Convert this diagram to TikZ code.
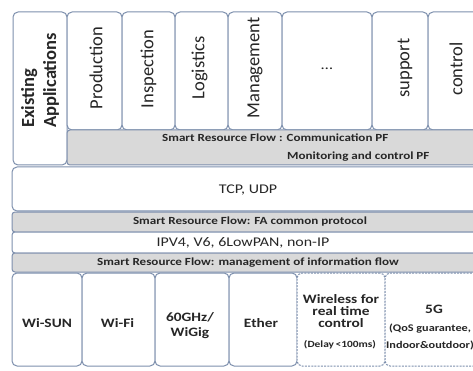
\documentclass[tikz,border=0pt]{standalone}
\usepackage{fontspec}
\setmainfont{Carlito}
\newfontfamily\widefont[FakeStretch=1.2]{Carlito}
\definecolor{frame}{HTML}{7D8FAD}
\definecolor{band}{HTML}{D9D9D9}
\definecolor{ink}{HTML}{262626}
\tikzset{
  cell/.style={draw=frame, line width=1pt, rounded corners=5pt, fill=white,
    inner sep=0pt, outer sep=0pt},
  bandcell/.style={cell, fill=band, rounded corners=3pt},
  dashcell/.style={cell, dashed, dash pattern=on 2pt off 1.2pt},
  txt/.style={text=ink, inner sep=0pt, align=center},
  vlabel/.style={txt, rotate=90, font=\fontsize{18.5}{20}\selectfont},
  blabel/.style={txt, font=\widefont\bfseries\fontsize{10.9}{12}\selectfont},
  llabel/.style={txt, font=\widefont\fontsize{13.3}{15}\selectfont},
  hwlabel/.style={txt, font=\widefont\bfseries\fontsize{12.8}{15}\selectfont},
}
\begin{document}
\begin{tikzpicture}[x=1pt, y=-1pt]
\clip (0,0) rectangle (473,371);
\fill[white] (0,0) rectangle (473,371);

% application row
\node[cell, minimum width=54pt, minimum height=153pt] (exist) at (40,88.5) {};
\node[cell, minimum width=55pt, minimum height=118pt] (prod) at (94.5,71) {};
\node[cell, minimum width=53pt, minimum height=118pt] (insp) at (148.5,71) {};
\node[cell, minimum width=53pt, minimum height=118pt] (logi) at (201.5,71) {};
\node[cell, minimum width=54pt, minimum height=118pt] (mgmt) at (255,71) {};
\node[cell, minimum width=90pt, minimum height=118pt] (more) at (327,71) {};
\node[cell, minimum width=56pt, minimum height=118pt] (supp) at (400,71) {};
\node[cell, minimum width=56pt, minimum height=118pt] (ctrl) at (456,71) {};

\node[vlabel, anchor=west, align=left, font=\bfseries\fontsize{18.5}{22}\selectfont]
  (existtxt) at (40,128) {Existing\\Applications};
\node[vlabel] (prodtxt) at (96,68) {Production};
\node[vlabel] (insptxt) at (148.5,69) {Inspection};
\node[vlabel] (logitxt) at (199.5,68) {Logistics};
\node[vlabel] (mgmttxt) at (255,68) {Management};
\node[txt, font=\widefont\fontsize{14}{16}\selectfont] (moretxt) at (327,69) {\dots};
\node[vlabel] (supptxt) at (405,68) {support};
\node[vlabel] (ctrltxt) at (456,69) {control};

% platform band
\node[bandcell, minimum width=423pt, minimum height=35pt] (comm) at (278.5,147.5) {};
\node[blabel, anchor=base west] (commA) at (162,142) {Smart Resource Flow : Communication PF};
\node[blabel, anchor=base west] (commB) at (287,159.5) {Monitoring and control PF};

% transport and network layers
\node[cell, minimum width=478pt, minimum height=44pt] (tcp) at (251,189) {};
\node[llabel] (tcptxt) at (248,190) {TCP, UDP};
\node[bandcell, minimum width=478pt, minimum height=20pt] (fa) at (251,222) {};
\node[blabel] (fatxt) at (250,222) {Smart Resource Flow: FA common protocol};
\node[cell, rounded corners=3pt, minimum width=478pt, minimum height=21pt] (ip) at (251,242.5) {};
\node[llabel] (iptxt) at (243,242.5) {IPV4, V6, 6LowPAN, non-IP};
\node[bandcell, minimum width=478pt, minimum height=19pt] (flow) at (251,262.5) {};
\node[blabel] (flowtxt) at (248,262.5) {Smart Resource Flow: management of information flow};

% radio / link layer
\node[cell, minimum width=70pt, minimum height=93pt] (wisun) at (47,319.5) {};
\node[cell, minimum width=73pt, minimum height=93pt] (wifi) at (118.5,319.5) {};
\node[cell, minimum width=74pt, minimum height=93pt] (wigig) at (192,319.5) {};
\node[cell, minimum width=68pt, minimum height=93pt] (ether) at (263,319.5) {};
\node[dashcell, minimum width=88pt, minimum height=93pt] (wrt) at (341,319.5) {};
\node[dashcell, minimum width=95pt, minimum height=93pt] (fiveg) at (432.5,319.5) {};

\node[hwlabel] (wisuntxt) at (47,323) {Wi-SUN};
\node[hwlabel] (wifitxt) at (117.5,323) {Wi-Fi};
\node[hwlabel, font=\widefont\bfseries\fontsize{12.8}{15}\selectfont] (wigigtxt) at (190,326) {60GHz/\\WiGig};
\node[hwlabel] (ethertxt) at (261,323) {Ether};
\node[hwlabel, font=\widefont\bfseries\fontsize{12.8}{12}\selectfont] (wrttxt) at (341,311)
  {Wireless for\\real time\\control};
\node[txt, font=\widefont\bfseries\fontsize{9.5}{10}\selectfont] (wrtnote) at (340,345) {(Delay\,<100ms)};
\node[hwlabel] (fivegtxt) at (434,309) {5G};
\node[txt, font=\widefont\bfseries\fontsize{10.2}{17}\selectfont] (fivegnote) at (430,336.5)
  {(QoS guarantee,\\Indoor\&outdoor)};
\end{tikzpicture}
\end{document}
